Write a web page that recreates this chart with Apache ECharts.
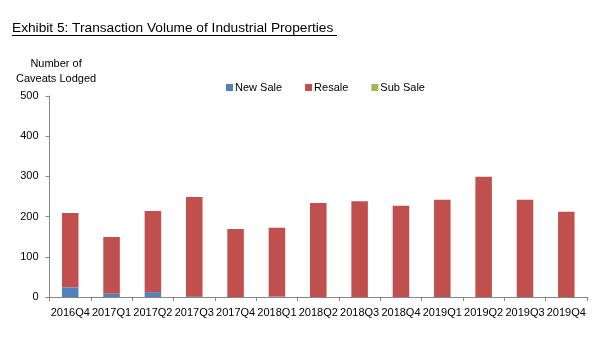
<!DOCTYPE html>
<html>
<head>
<meta charset="utf-8">
<script src="https://cdn.jsdelivr.net/npm/echarts@6/dist/echarts.min.js"></script>
<style>html,body{margin:0;padding:0;background:#fff}#c{width:600px;height:360px}</style>
</head>
<body>
<div id="c"></div>
<script>
const categories = ['2016Q4','2017Q1','2017Q2','2017Q3','2017Q4','2018Q1','2018Q2','2018Q3','2018Q4','2019Q1','2019Q2','2019Q3','2019Q4'];
const newSale = [24, 8, 12, 2, 0, 1, 0, 0, 0, 0, 0, 0, 0];
const resale  = [185, 141, 202, 247, 169, 171, 234, 238, 227, 242, 299, 242, 212];
const subSale = [0, 0, 0, 0, 0, 0, 0, 0, 0, 0, 0, 0, 0];
const yTicks = {min: 0, max: 500, interval: 100};

const font = 'Liberation Sans, Arial, sans-serif';
const chart = echarts.init(document.getElementById('c'));
chart.setOption({
  backgroundColor: '#fff',
  animation: false,
  textStyle: {fontFamily: font},
  title: {
    text: 'Exhibit 5: Transaction Volume of Industrial Properties',
    left: 12, top: 21, padding: 0,
    textStyle: {fontFamily: font, fontSize: 13.7, fontWeight: 'normal', color: '#000'}
  },
  graphic: [{
    type: 'line', shape: {x1: 12, y1: 35.5, x2: 337, y2: 35.5},
    style: {stroke: '#000', lineWidth: 1}
  }],
  legend: {
    left: 221, top: 77,
    itemWidth: 7, itemHeight: 7, itemGap: 23, icon: 'rect',
    textStyle: {fontFamily: font, fontSize: 11, color: '#000', padding: [0, 0, 0, -3]},
    data: ['New Sale', 'Resale', 'Sub Sale']
  },
  grid: {left: 46.5, right: 13, top: 96, bottom: 63, containLabel: false},
  xAxis: {
    type: 'category', data: categories,
    axisLine: {lineStyle: {color: '#868686'}},
    axisTick: {show: true, length: 4, lineStyle: {color: '#868686'}},
    axisLabel: {color: '#000', fontSize: 11, margin: 10, interval: 0, fontFamily: font}
  },
  yAxis: {
    type: 'value', min: yTicks.min, max: yTicks.max, interval: yTicks.interval,
    name: 'Number of\nCaveats Lodged',
    nameLocation: 'end', nameGap: 10,
    nameTextStyle: {color: '#000', fontSize: 11, align: 'center', lineHeight: 15, padding: [0, 0, 0, 13], fontFamily: font},
    axisLine: {show: true, lineStyle: {color: '#868686'}},
    axisTick: {show: true, length: 4, lineStyle: {color: '#868686'}},
    axisLabel: {color: '#000', fontSize: 11, margin: 11, fontFamily: font},
    splitLine: {show: false}
  },
  series: [
    {name: 'New Sale', type: 'bar', stack: 's', data: newSale, barWidth: '40%', itemStyle: {color: '#4F81BD'}},
    {name: 'Resale', type: 'bar', stack: 's', data: resale, barWidth: '40%', itemStyle: {color: '#C0504D'}},
    {name: 'Sub Sale', type: 'bar', stack: 's', data: subSale, barWidth: '40%', itemStyle: {color: '#9BBB59'}}
  ]
});
</script>
</body>
</html>
